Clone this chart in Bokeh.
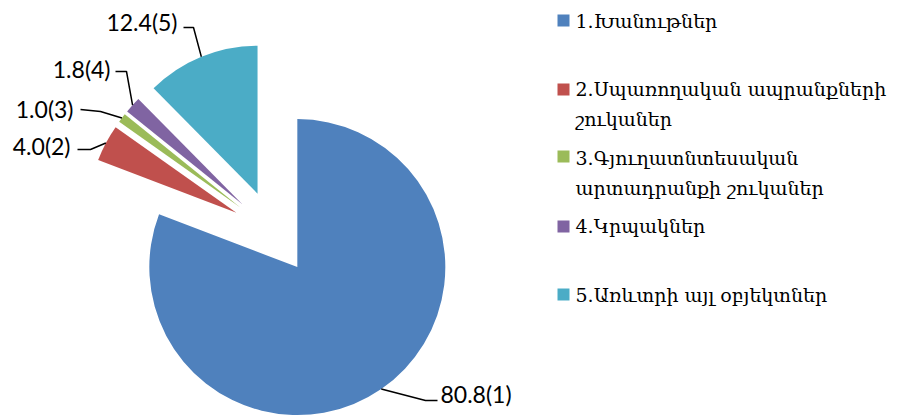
import math
from bokeh.plotting import figure
from bokeh.models import Range1d, ColumnDataSource
from bokeh.core.properties import value
from bokeh.embed import file_html
from bokeh.resources import INLINE

# ---- data ----
categories = ["1.Խանութներ",
              "2.Սպառողական ապրանքների\nշուկաներ",
              "3.Գյուղատնտեսական\nարտադրանքի շուկաներ",
              "4.Կրպակներ",
              "5.Առևտրի այլ օբյեկտներ"]
shares = [80.8, 4.0, 1.0, 1.8, 12.4]
data_labels = ["80.8(1)", "4.0(2)", "1.0(3)", "1.8(4)", "12.4(5)"]
colors = ["#4F81BD", "#C0504D", "#9BBB59", "#8064A2", "#4BACC6"]

# ---- layout (screen pixel coordinates of the 898x416 page) ----
W, H = 898, 416
def Y(y):  # screen y -> data y
    return H - y

cx, cy = 273, 232
radius = 148
explode = 42
text_shift = 7
# label anchor (x, baseline y, align) and leader elbow points
label_pos = [(440, 400, "left"), (70, 152, "right"), (73, 115, "right"),
             (110, 75, "right"), (177, 28, "right")]
leader_mid = [[(425, 400), (437, 400)], [(90, 149), (77, 149)],
              [(100, 111), (80, 109)], [(126, 71), (115, 71)],
              [(193, 27), (183, 27)]]
legend_x = 563
legend_text_x = 575
legend_marker_y = [20, 89, 156, 226, 294]
legend_base_y = [27, 95, 164, 232, 301]
legend_line_gap = 30

p = figure(width=W, height=H, output_backend="svg", toolbar_location=None,
           x_range=Range1d(0, W), y_range=Range1d(0, H),
           min_border=0)
p.axis.visible = False
p.grid.visible = False
p.outline_line_color = None
p.background_fill_color = "white"
p.border_fill_color = "white"

total = sum(shares)
starts, ends, xs, ys = [], [], [], []
edge_pts = []
cum = 0.0
for v in shares:
    a0 = math.pi / 2 - cum / total * 2 * math.pi
    cum += v
    a1 = math.pi / 2 - cum / total * 2 * math.pi
    mid = (a0 + a1) / 2
    ox = cx + explode * math.cos(mid)
    oy = cy - explode * math.sin(mid)
    starts.append(a1)
    ends.append(a0)
    xs.append(ox)
    ys.append(Y(oy))
    edge_pts.append((cx + (explode + radius) * math.cos(mid),
                     cy - (explode + radius) * math.sin(mid)))

src = ColumnDataSource(dict(x=xs, y=ys, start=starts, end=ends, color=colors))
p.wedge(x="x", y="y", radius=radius, start_angle="start", end_angle="end",
        direction="anticlock", fill_color="color", line_color=None, source=src)

# leader lines and data labels
for i in range(len(shares)):
    pts = [edge_pts[i]] + leader_mid[i]
    p.line([q[0] for q in pts], [Y(q[1]) for q in pts], line_color="black",
           line_width=1.5)
    lx, ly, al = label_pos[i]
    p.text([lx], [Y(ly - text_shift)], text=[data_labels[i]], text_align=al,
           text_baseline="alphabetic", text_font=value("Lato"),
           text_font_size="23px", text_color="black")

# legend
p.rect([legend_x] * len(categories), [Y(v) for v in legend_marker_y],
       width=12, height=12, fill_color=colors, line_color=None)
for i, cat in enumerate(categories):
    for k, line in enumerate(cat.split("\n")):
        p.text([legend_text_x],
               [Y(legend_base_y[i] + k * legend_line_gap - text_shift)],
               text=[line], text_align="left", text_baseline="alphabetic",
               text_font=value("DejaVu Serif"), text_font_size="19px",
               text_color="black")

open("out.html", "w").write(file_html(p, INLINE))
